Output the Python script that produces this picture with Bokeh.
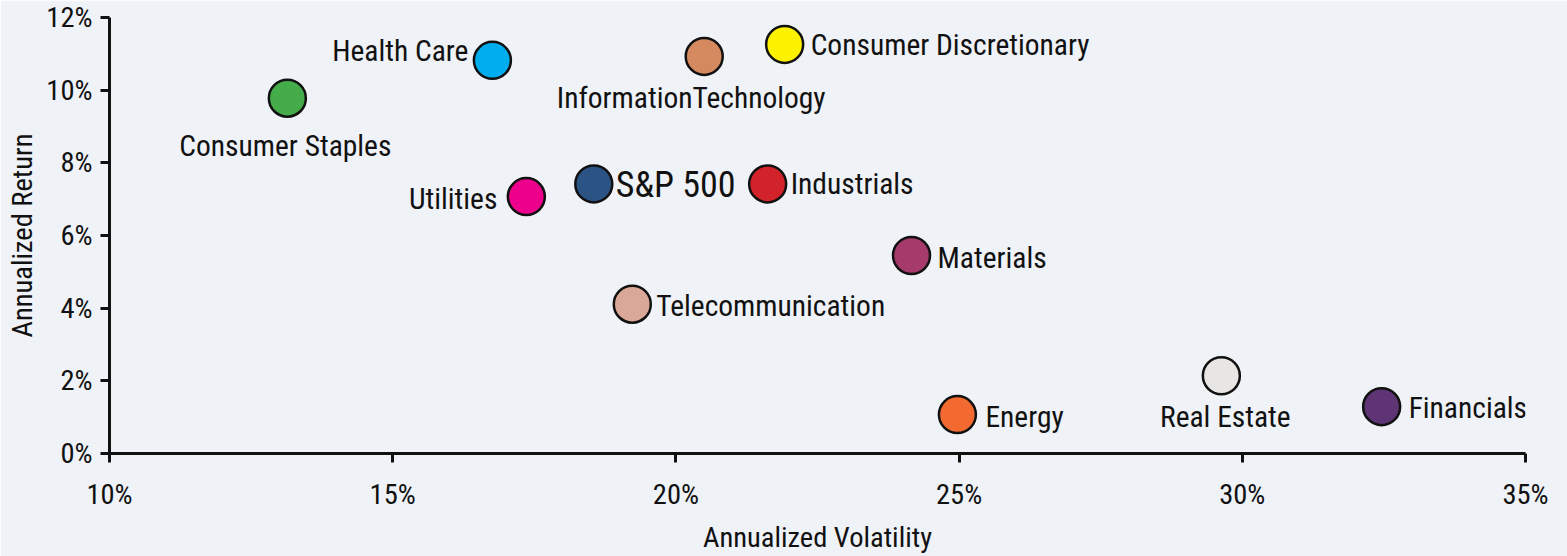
from bokeh.plotting import figure
from bokeh.models import ColumnDataSource, Range1d, FixedTicker, PrintfTickFormatter, LabelSet
from bokeh.core.properties import value
from bokeh.embed import file_html
from bokeh.resources import INLINE

# ---- data (percent) ----
sectors = ["Consumer Staples", "Health Care", "InformationTechnology", "Consumer Discretionary",
           "Utilities", "S&P 500", "Industrials", "Materials", "Telecommunication",
           "Energy", "Real Estate", "Financials"]
volatility = [13.14, 16.76, 20.50, 21.92, 17.36, 18.55, 21.62, 24.16, 19.23, 24.97, 29.63, 32.46]
annual_return = [9.78, 10.82, 10.93, 11.26, 7.07, 7.42, 7.42, 5.45, 4.11, 1.07, 2.14, 1.29]
colors = ["#45AC4A", "#00AEEF", "#D4895E", "#FFF200", "#EC008C", "#2B5384",
          "#D2232A", "#A63A6B", "#D9A896", "#F26A30", "#E8E6E4", "#5F3474"]
x_ticks = [10, 15, 20, 25, 30, 35]
y_ticks = [0, 2, 4, 6, 8, 10, 12]

# ---- label placement (styling) ----
label_dx = [-2, -24, -13, 26, -29, 22, 23, 26, 24, 28, 4, 27]
label_dy = [-48, 9, -42, -1, -2, -1, 0, -3, -2, -2, -41, -1]
label_align = ["center", "right", "center", "left", "right", "left", "left", "left",
               "left", "left", "center", "left"]
label_size = ["29.5px"] * 12
label_size[5] = "36px"

BG = "#EFF2F7"
FONT = "Roboto Condensed"
INK = "#111111"

src = ColumnDataSource(dict(x=volatility, y=annual_return, name=sectors, color=colors,
                            dx=label_dx, dy=label_dy, align=label_align, fs=label_size))

p = figure(width=1567, height=556, output_backend="svg", toolbar_location=None,
           x_range=Range1d(10, 35), y_range=Range1d(0, 12),
           min_border_left=109, min_border_right=42, min_border_top=17, min_border_bottom=101)
p.background_fill_color = BG
p.border_fill_color = BG
p.outline_line_color = None
p.grid.visible = False

p.scatter("x", "y", source=src, size=37, fill_color="color", line_color=INK, line_width=2.5)
labels = LabelSet(x="x", y="y", text="name", source=src, x_offset="dx", y_offset="dy",
                  text_align="align", text_baseline="middle", text_font=value(FONT),
                  text_font_size="fs", text_color=INK)
p.add_layout(labels)

for ax in (p.xaxis[0], p.yaxis[0]):
    ax.axis_line_width = 3
    ax.axis_line_color = INK
    ax.major_tick_line_width = 3
    ax.major_tick_line_color = INK
    ax.major_tick_out = 9
    ax.major_tick_in = 0
    ax.minor_tick_line_color = None
    ax.major_label_text_font = FONT
    ax.major_label_text_font_size = "28.5px"
    ax.major_label_text_color = INK
    ax.axis_label_text_font = FONT
    ax.axis_label_text_font_size = "28.5px"
    ax.axis_label_text_font_style = "normal"
    ax.axis_label_text_color = INK
    ax.formatter = PrintfTickFormatter(format="%d%%")

p.xaxis[0].ticker = FixedTicker(ticks=x_ticks)
p.yaxis[0].ticker = FixedTicker(ticks=y_ticks)
p.xaxis[0].axis_label = "Annualized Volatility"
p.yaxis[0].axis_label = "Annualized Return"
p.xaxis[0].major_label_standoff = 15
p.xaxis[0].axis_label_standoff = 7
p.yaxis[0].major_label_standoff = 8
p.yaxis[0].axis_label_standoff = 4

open("out.html", "w").write(file_html(p, INLINE))
